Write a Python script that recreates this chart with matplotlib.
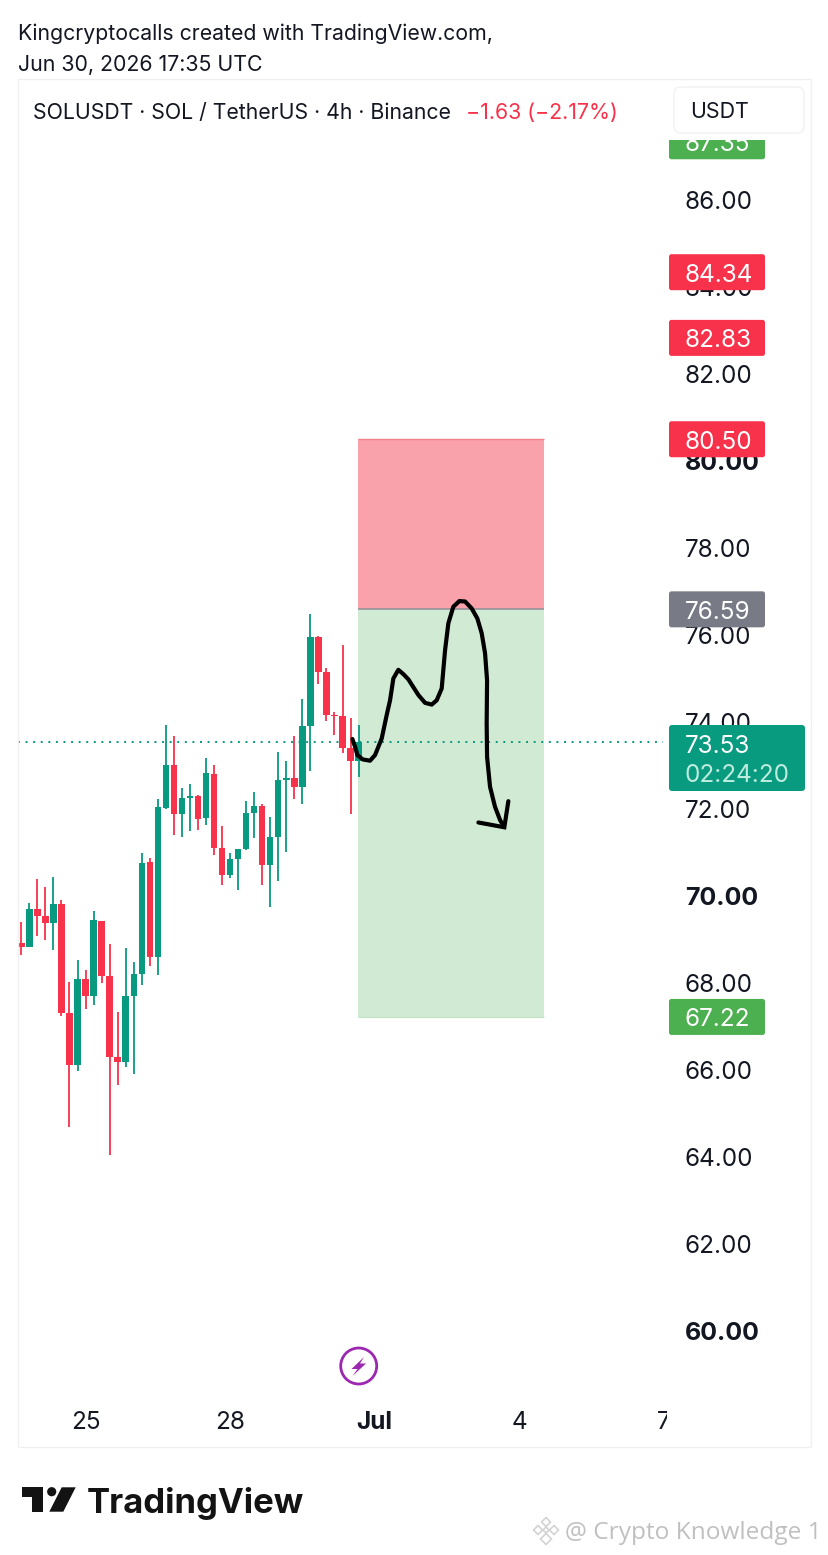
from matplotlib import pyplot as plt
from matplotlib.patches import Circle, FancyBboxPatch, Polygon, Rectangle
from matplotlib.transforms import Bbox

plt.rcParams['font.family'] = ['Inter', 'DejaVu Sans']

GREEN = '#089981'
RED = '#F7324A'
W, H = 829, 1555

# candles, one every 4 hours
opens = [68.92, 68.82, 69.69, 69.55, 69.37, 69.81, 67.31, 66.11, 68.10, 67.69, 69.43,
         68.17, 66.30, 66.18, 67.70, 68.20, 70.78, 68.60, 72.03, 73.00, 71.89, 72.26,
         72.30, 71.79, 72.81, 71.10, 70.48, 70.85, 71.07, 71.90, 72.08, 70.71, 71.36,
         72.66, 72.71, 72.50, 73.90, 75.96, 75.14, 74.17, 74.14, 73.40, 73.10]
highs = [69.40, 69.83, 70.39, 70.20, 70.43, 69.91, 68.02, 68.53, 68.31, 69.66, 69.43,
         68.90, 67.34, 68.80, 68.49, 70.98, 70.87, 72.23, 73.92, 73.67, 72.48, 72.57,
         72.32, 73.17, 73.00, 71.61, 71.00, 71.07, 72.19, 72.40, 72.11, 71.81, 73.32,
         73.10, 73.67, 74.54, 76.48, 75.98, 75.23, 74.24, 75.78, 74.09, 73.92]
lows = [68.64, 68.82, 69.09, 68.99, 68.76, 67.25, 64.70, 65.97, 67.40, 67.49, 68.00,
        64.04, 65.65, 66.08, 65.90, 67.95, 68.39, 68.18, 72.01, 71.40, 71.36, 71.50,
        71.52, 71.63, 70.94, 70.25, 70.42, 70.14, 71.06, 71.33, 70.25, 69.74, 70.34,
        71.02, 72.23, 72.11, 72.88, 74.87, 74.03, 73.69, 73.29, 71.89, 72.73]
closes = [68.82, 69.69, 69.55, 69.37, 69.81, 67.31, 66.11, 68.10, 67.69, 69.45, 68.17,
          66.30, 66.18, 67.70, 68.20, 70.76, 68.60, 72.05, 73.00, 71.89, 72.26, 72.30,
          71.78, 72.83, 71.10, 70.48, 70.85, 71.07, 71.90, 72.08, 70.71, 71.36, 72.66,
          72.71, 72.50, 73.90, 75.96, 75.14, 74.17, 74.14, 73.40, 73.10, 73.53]

# hand drawn path over the chart (bar number, price)
sketch_x = [41.23, 41.56, 41.85, 42.51, 43.43, 44.05, 44.88, 45.50, 45.92, 46.33, 46.95, 47.58,
            48.20, 49.45, 50.28, 51.11, 51.73, 52.35, 52.77, 53.18, 53.80, 54.55, 55.26, 56.09,
            56.79, 57.33, 57.75, 58.00, 57.95, 58.00, 58.37, 58.99, 59.61, 60.11]
sketch_y = [73.61, 73.43, 73.24, 73.14, 73.11, 73.24, 73.62, 74.16, 74.50, 75.00, 75.20, 75.10,
            74.98, 74.62, 74.44, 74.40, 74.50, 74.77, 75.65, 76.27, 76.65, 76.78, 76.77, 76.61,
            76.38, 76.04, 75.58, 74.96, 73.97, 73.20, 72.51, 72.05, 71.75, 71.59]
arrow_x = [60.65, 60.15, 56.92]
arrow_y = [72.18, 71.58, 71.69]

# position tool
box_start, box_end = 41.93, 65.1
stop_price, entry_price, target_price = 80.50, 76.59, 67.22
last_price = 73.53
countdown = '02:24:20'

price_ticks = list(range(60, 88, 2))
bold_prices = [60, 70, 80]
date_ticks = [8, 26, 44, 62, 80]
date_labels = ['25', '28', 'Jul', '4', '7']
tags = [(87.35, '#4CAF50'), (84.34, RED), (82.83, RED), (80.50, RED), (76.59, '#787B86'), (67.22, '#4CAF50')]


def main():
    fig = plt.figure(figsize=(W / 100, H / 100), dpi=100)
    fig.patch.set_facecolor('white')

    # Main price pane, placed in pixels of the reference
    left, right, top, bottom = 18, 668, 140, 1396
    ax = fig.add_axes([left / W, 1 - bottom / H, (right - left) / W, (bottom - top) / H])
    ax.set_xlim(-0.41, 80.53)
    ax.set_ylim(58.506, 87.379)
    ax.patch.set_alpha(0)
    for spine in ax.spines.values():
        spine.set_visible(False)

    # Position boxes
    ax.bar(box_start, stop_price - entry_price, bottom=entry_price, width=box_end - box_start, align='edge',
           color='#FAA2AB', zorder=1)
    ax.bar(box_start, entry_price - target_price, bottom=target_price, width=box_end - box_start, align='edge',
           color='#D1EAD4', zorder=1)
    ax.hlines(stop_price, box_start, box_end, color='#F2808C', lw=1.0, zorder=1.5)
    ax.hlines(entry_price, box_start, box_end, color='#8E8E94', lw=1.1, zorder=1.5)
    ax.hlines(target_price, box_start, box_end, color='#BFE3C4', lw=0.8, zorder=1.5)

    # Candles
    for i in range(len(opens)):
        color = GREEN if closes[i] >= opens[i] else RED
        ax.vlines(i, lows[i], highs[i], color=color, lw=1.3, zorder=3)
        ax.bar(i, abs(closes[i] - opens[i]), bottom=min(opens[i], closes[i]), width=0.8, color=color, zorder=3)

    ax.hlines(last_price, -0.41, 79.9, color=GREEN, lw=1.4, linestyles=(0, (1, 2.9)), zorder=2)

    ax.plot(sketch_x, sketch_y, color='black', lw=3.0, solid_capstyle='round', solid_joinstyle='round', zorder=4)
    ax.plot(arrow_x, arrow_y, color='black', lw=3.0, solid_capstyle='round', solid_joinstyle='miter', zorder=4)

    # Axis labels
    ax.yaxis.tick_right()
    ax.set_yticks(price_ticks)
    ax.set_yticklabels(['%.2f' % p for p in price_ticks], fontsize=17.5, color='#131722')
    ax.tick_params(axis='y', length=0, pad=12)
    for label, price in zip(ax.get_yticklabels(), price_ticks):
        if price in bold_prices:
            label.set_fontweight('bold')
            label.set_fontsize(18)
    ax.set_xticks(date_ticks)
    ax.set_xticklabels(date_labels, fontsize=17.5, color='#131722')
    ax.tick_params(axis='x', length=0, pad=10.5)
    for label, text in zip(ax.get_xticklabels(), date_labels):
        if text == 'Jul':
            label.set_fontweight('bold')
        label.set_clip_on(True)
        label.set_clip_box(Bbox([[0, 0], [667, H]]))

    # Overlay in reference pixels for the tags, header and branding
    page = fig.add_axes([0, 0, 1, 1], zorder=5)
    page.set_xlim(0, W)
    page.set_ylim(H, 0)
    page.axis('off')

    def price_y(price):
        return H - ax.transData.transform((0, price))[1]

    for price, color in tags:
        y = price_y(price)
        page.add_patch(FancyBboxPatch((669, y - 18), 96, 36, boxstyle='round,pad=0,rounding_size=2.5',
                                      fc=color, ec='none', zorder=2))
        page.text(685, y + 0.5, '%.2f' % price, fontsize=17.5, color='white', va='center_baseline', zorder=3)

    # Current price tag
    y = price_y(last_price)
    page.add_patch(FancyBboxPatch((669, 725), 136, 66, boxstyle='round,pad=0,rounding_size=3',
                                  fc='#089B80', ec='none', zorder=2))
    page.text(685, y + 1.5, '%.2f' % last_price, fontsize=17.5, color='white', va='center_baseline', zorder=3)
    page.text(685, y + 30.5, countdown, fontsize=17.5, color='#BDEBDD', va='center_baseline', zorder=3)

    # Header band hides what is above the pane
    page.add_patch(Rectangle((0, 0), W, 140, fc='white', ec='none', zorder=4))
    page.add_patch(Rectangle((18, 79), 793, 1368, fc='none', ec='#F0F0F0', lw=1, zorder=5))
    page.add_patch(FancyBboxPatch((674, 87), 130, 46, boxstyle='round,pad=0,rounding_size=7',
                                  fc='white', ec='#F1F2F5', lw=1, zorder=5))
    page.text(690, 110.5, 'USDT', fontsize=15.4, color='#131722', va='center_baseline', zorder=6)

    page.text(18, 32, 'Kingcryptocalls created with TradingView.com,', fontsize=15.3, color='#131722',
              va='center_baseline', zorder=6)
    page.text(18, 63, 'Jun 30, 2026 17:35 UTC', fontsize=15.4, color='#131722', va='center_baseline', zorder=6)
    page.text(33, 111, 'SOLUSDT · SOL / TetherUS · 4h · Binance', fontsize=15.3, color='#131722',
              va='center_baseline', zorder=6)
    page.text(466, 111, '−1.63 (−2.17%)', fontsize=15.4, color=RED, va='center_baseline', zorder=6)

    # Lightning mark
    page.add_patch(Circle((358.7, 1366), 18, fc='white', ec='#9C27B0', lw=2.0, zorder=3))
    page.add_patch(Polygon([(364, 1357), (351.5, 1369), (357.5, 1369), (352.5, 1376),
                            (366, 1363.5), (360, 1363.5)], fc='#9C27B0', ec='none', zorder=4))

    # TradingView logo
    page.add_patch(Polygon([(21.7, 1487.3), (43.3, 1487.3), (43.3, 1511.7), (31.7, 1511.7), (31.7, 1497.3),
                            (21.7, 1497.3)], fc='#131313', ec='none'))
    page.add_patch(Circle((51.7, 1491.7), 4.6, fc='#131313', ec='none'))
    page.add_patch(Polygon([(61.7, 1487.3), (75.7, 1487.3), (63.3, 1511.7), (49.3, 1511.7)], fc='#131313', ec='none'))
    page.text(87, 1500, 'TradingView', fontsize=25, fontweight='bold', color='#131313', va='center_baseline')

    # Watermark
    for dx, dy, size in [(0, -8, 4.5), (-8, 0, 4.5), (8, 0, 4.5), (0, 0, 3), (0, 9, 5.5)]:
        cx, cy = 546 + dx, 1530 + dy
        page.add_patch(Polygon([(cx, cy - size), (cx + size, cy), (cx, cy + size), (cx - size, cy)],
                               fc='none', ec='#D0D0D0', lw=1.1))
    page.text(565, 1530, '@ Crypto Knowledge 1', fontsize=17.6, family=['Open Sans', 'DejaVu Sans'], color='#C0C0C0',
              va='center_baseline')

    fig.savefig('out.png', dpi=100)


if __name__ == '__main__':
    main()
